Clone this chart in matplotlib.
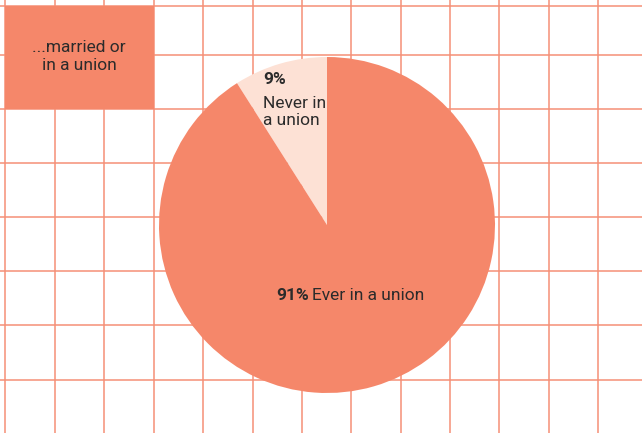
import matplotlib
matplotlib.use("Agg")
import matplotlib.pyplot as plt

# shares of women, by union status
shares = [9, 91]
labels = ["Never in\na union", "Ever in a union"]
box_title = "...married or\nin a union"

W, H = 642, 433
salmon = "#F5876A"
pale = "#FDE1D5"
gridc = "#F59076"
ink = "#2B2B2B"

plt.rcParams['font.family'] = ['Liberation Sans Narrow', 'Roboto', 'DejaVu Sans']

fig = plt.figure(figsize=(W / 100, H / 100), dpi=100)
ax = fig.add_axes([0, 0, 1, 1])

# graph-paper background (pixel coords, y measured from the top)
for x in [5, 54.5, 104, 153.5, 203, 252.5, 302, 351, 400.5, 450, 499, 548.5, 598]:
    ax.axvline(x, color=gridc, lw=1.1, zorder=1)
for y in [5.5, 55.3, 109.3, 163, 217, 271, 325.3, 379.5]:
    ax.axhline(H - y, color=gridc, lw=1.1, zorder=1)

# title box in the upper-left cell block
ax.add_patch(plt.Rectangle((5, H - 109.3), 148.5, 103.8, color=salmon, zorder=2, lw=0))
ax.text(79, H - 57, box_title, ha="center", va="center", fontsize=12.5,
        color=ink, linespacing=1.25, zorder=3)

cx, cy, r = 327, H - 225, 168
ax.pie(shares, colors=[pale, salmon], startangle=90, counterclock=True,
       center=(cx, cy), radius=r, wedgeprops=dict(lw=0, zorder=2))

# small slice label
ax.text(263, H - 80, f"{shares[0]}%", ha="left", va="center", fontsize=12.5,
        fontweight="bold", color=ink, zorder=4)
ax.text(263, H - 112, labels[0], ha="left", va="center", fontsize=12.5,
        color=ink, linespacing=1.2, zorder=4)

# big slice label
ax.text(309, H - 295, f"{shares[1]}%", ha="right", va="center", fontsize=12.5,
        fontweight="bold", color=ink, zorder=4)
ax.text(312, H - 295, labels[1], ha="left", va="center", fontsize=12.5,
        color=ink, zorder=4)

ax.set_xlim(0, W)
ax.set_ylim(0, H)
ax.set_aspect("auto")
ax.axis("off")

fig.savefig("out.png", dpi=100, facecolor="white")
